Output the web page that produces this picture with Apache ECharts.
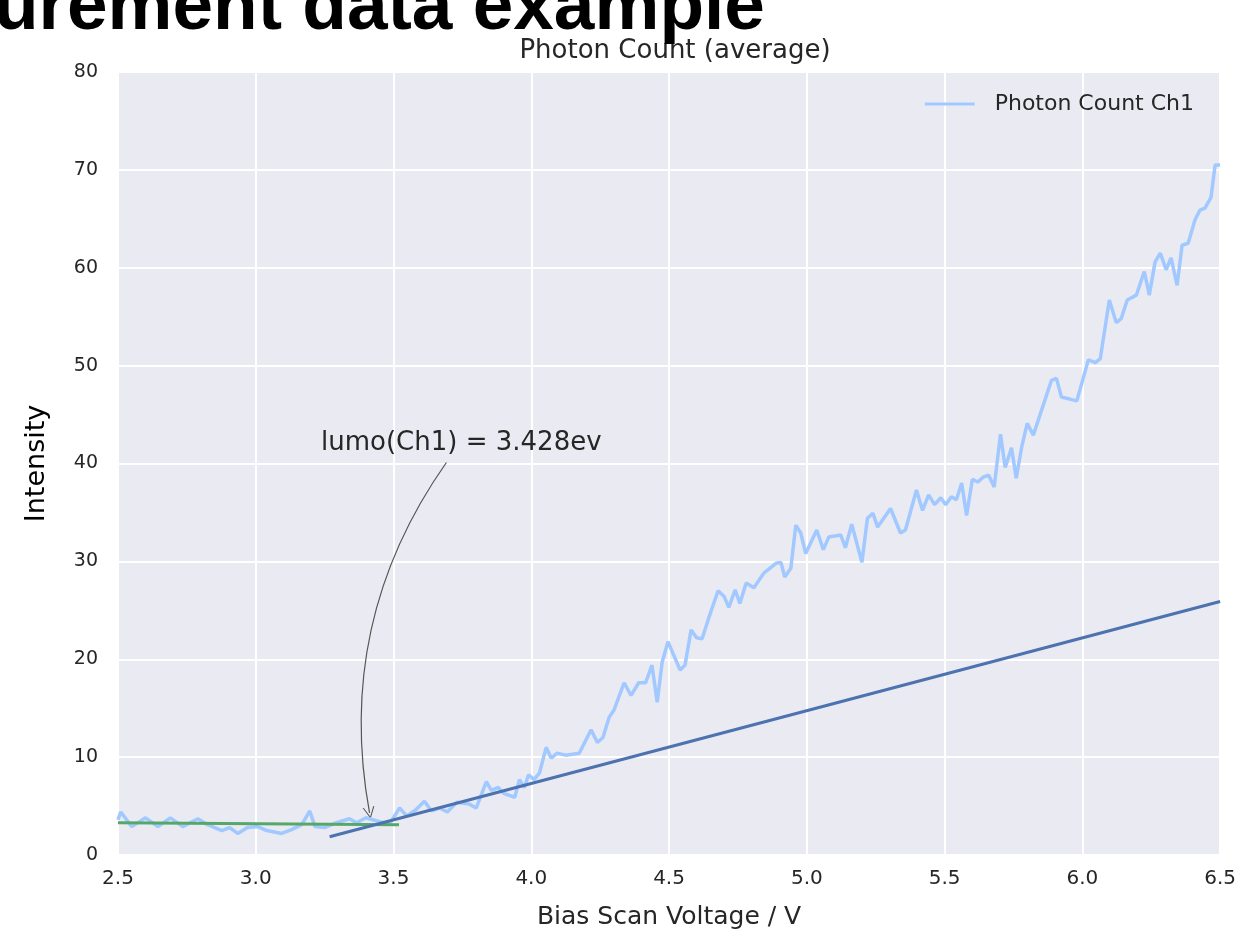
<!DOCTYPE html>
<html>
<head>
<meta charset="utf-8">
<script src="https://cdn.jsdelivr.net/npm/echarts@6/dist/echarts.min.js"></script>
<style>
  html, body {margin:0; padding:0; background:#fff;}
  #chart {width:1239px; height:935px;}
</style>
</head>
<body>
<div id="chart"></div>
<script>
// Photon count, channel 1
const photonX = [2.50, 2.51, 2.55, 2.60, 2.645, 2.69, 2.735, 2.79, 2.825, 2.877, 2.905, 2.935, 2.97, 3.007, 3.04,
  3.094, 3.13, 3.167, 3.196, 3.215, 3.25, 3.293, 3.34, 3.366, 3.40, 3.45, 3.486, 3.522, 3.548, 3.58, 3.612,
  3.638, 3.667, 3.695, 3.73, 3.775, 3.80, 3.837, 3.855, 3.88, 3.90, 3.94, 3.957, 3.975, 3.99, 4.01, 4.03,
  4.054, 4.072, 4.094, 4.125, 4.174, 4.217, 4.24, 4.26, 4.283, 4.30, 4.337, 4.362, 4.39, 4.415, 4.438, 4.457,
  4.475, 4.496, 4.54, 4.558, 4.58, 4.60, 4.62, 4.645, 4.678, 4.70, 4.717, 4.74, 4.757, 4.78, 4.808, 4.844,
  4.888, 4.906, 4.92, 4.942, 4.96, 4.978, 4.996, 5.036, 5.06, 5.08, 5.123, 5.14, 5.163, 5.20, 5.22, 5.24,
  5.257, 5.304, 5.34, 5.358, 5.398, 5.42, 5.442, 5.464, 5.486, 5.504, 5.525, 5.543, 5.562, 5.58, 5.601, 5.62,
  5.64, 5.66, 5.68, 5.703, 5.72, 5.743, 5.76, 5.78, 5.80, 5.822, 5.848, 5.888, 5.906, 5.924, 5.98, 6.022,
  6.047, 6.065, 6.098, 6.123, 6.141, 6.163, 6.196, 6.225, 6.243, 6.264, 6.283, 6.304, 6.322, 6.344, 6.362,
  6.384, 6.409, 6.427, 6.445, 6.467, 6.482, 6.50];
const photonY = [3.6, 4.4, 2.9, 3.8, 2.9, 3.8, 2.9, 3.7, 3.1, 2.5, 2.8, 2.2, 2.8, 2.9, 2.5,
  2.2, 2.6, 3.1, 4.5, 2.9, 2.8, 3.3, 3.7, 3.3, 3.8, 3.4, 3.2, 4.8, 4.0, 4.6, 5.5,
  4.5, 4.8, 4.4, 5.4, 5.2, 4.8, 7.5, 6.6, 6.9, 6.3, 5.9, 7.7, 6.9, 8.2, 7.7, 8.4,
  11.0, 9.9, 10.4, 10.2, 10.4, 12.8, 11.5, 12.0, 14.1, 14.8, 17.6, 16.3, 17.6, 17.6, 19.4, 15.6,
  19.7, 21.8, 18.9, 19.4, 23.0, 22.2, 22.1, 24.3, 27.0, 26.4, 25.3, 27.1, 25.7, 27.8, 27.3, 28.8,
  29.8, 29.9, 28.4, 29.3, 33.7, 32.9, 30.8, 33.2, 31.2, 32.5, 32.7, 31.4, 33.8, 29.9, 34.4, 34.9,
  33.5, 35.4, 32.9, 33.2, 37.3, 35.2, 36.8, 35.8, 36.5, 35.8, 36.6, 36.3, 38.0, 34.7, 38.4, 38.1,
  38.6, 38.8, 37.6, 43.0, 39.6, 41.6, 38.5, 41.7, 44.1, 42.9, 45.1, 48.5, 48.7, 46.8, 46.4, 50.6,
  50.3, 50.7, 56.7, 54.4, 54.8, 56.7, 57.2, 59.6, 57.2, 60.6, 61.5, 59.8, 61.0, 58.2, 62.3,
  62.5, 64.9, 65.9, 66.1, 67.2, 70.5, 70.5];

// Linear fits
const baseFitX = [2.5, 3.52];
const baseFitY = [3.30, 3.10];
const riseFitX = [3.268, 6.5];
const riseFitY = [1.87, 25.9];

// Annotation
const lumoLabel = 'lumo(Ch1) = 3.428ev';
const lumoTextAt = [3.746, 42.1];
const lumoArrowFrom = [3.692, 40.1];
const lumoArrowTo = [3.413, 4.3];

const xTicks = {min: 2.5, max: 6.5, interval: 0.5};
const yTicks = {min: 0, max: 80, interval: 10};

const zip = (xs, ys) => xs.map((x, i) => [x, ys[i]]);

const chart = echarts.init(document.getElementById('chart'));
const font = '"DejaVu Sans", sans-serif';
const tickColor = '#262626';

chart.setOption({
  animation: false,
  textStyle: {fontFamily: font},
  title: {
    text: 'Photon Count (average)',
    left: 670, top: 33, textAlign: 'center',
    textStyle: {fontSize: 26, fontWeight: 'normal', color: tickColor, fontFamily: font}
  },
  graphic: [{
    type: 'text', left: -6, top: -28, z: 10,
    style: {text: 'urement data example', font: 'bold 73px "Liberation Sans", Arial, sans-serif', fill: '#000'}
  }],
  legend: {
    right: 40, top: 88,
    icon: 'rect', itemWidth: 50, itemHeight: 3,
    textStyle: {fontSize: 22, color: tickColor, padding: [0, 0, 0, 15]},
    data: ['Photon Count Ch1']
  },
  grid: {
    left: 118, right: 17, top: 72, bottom: 80,
    show: true, backgroundColor: '#EAEAF2', borderWidth: 0
  },
  xAxis: {
    type: 'value', ...xTicks,
    name: 'Bias Scan Voltage / V', nameLocation: 'middle', nameGap: 50,
    nameTextStyle: {fontSize: 25, color: tickColor},
    axisLine: {show: false}, axisTick: {show: false},
    axisLabel: {fontSize: 20, color: tickColor, margin: 14, formatter: v => v.toFixed(1)},
    splitLine: {lineStyle: {color: '#fff', width: 2}}
  },
  yAxis: {
    type: 'value', ...yTicks,
    name: 'Intensity', nameLocation: 'middle', nameGap: 68, nameRotate: 90,
    nameTextStyle: {fontSize: 27, color: '#000'},
    axisLine: {show: false}, axisTick: {show: false},
    axisLabel: {fontSize: 19, color: tickColor, margin: 20},
    splitLine: {lineStyle: {color: '#fff', width: 2}}
  },
  series: [
    {
      name: 'Photon Count Ch1', type: 'line', symbol: 'none',
      data: zip(photonX, photonY),
      lineStyle: {color: '#A2C9FF', width: 3.5}, itemStyle: {color: '#A2C9FF'}
    },
    {
      type: 'line', symbol: 'none', data: zip(baseFitX, baseFitY),
      lineStyle: {color: '#55A868', width: 3}
    },
    {
      type: 'line', symbol: 'none', data: zip(riseFitX, riseFitY),
      lineStyle: {color: '#4C72B0', width: 3}
    },
    {
      type: 'lines', coordinateSystem: 'cartesian2d', silent: true,
      symbol: ['none', 'path://M0 10 L5 0 L10 10 L9 10 L5 2 L1 10 Z'], symbolSize: [9, 12],
      lineStyle: {color: '#555', width: 1.2, opacity: 1, curveness: -0.21},
      data: [{coords: [lumoArrowFrom, lumoArrowTo]}]
    },
    {
      type: 'scatter', silent: true, symbolSize: 1,
      itemStyle: {color: 'transparent', opacity: 1},
      label: {show: true, position: 'inside', formatter: lumoLabel, fontSize: 26, color: tickColor, opacity: 1},
      data: [lumoTextAt]
    }
  ]
});
</script>
</body>
</html>
